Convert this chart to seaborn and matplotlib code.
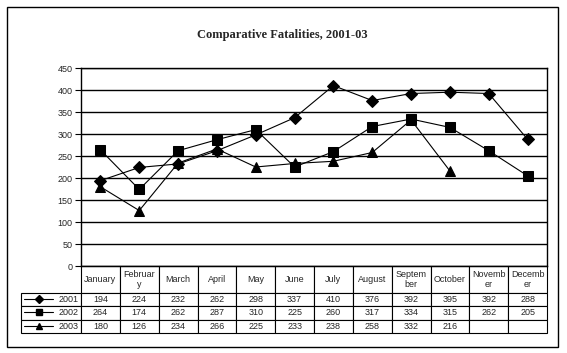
import numpy as np
import pandas as pd
import seaborn as sns
import matplotlib.pyplot as plt
from matplotlib.lines import Line2D
from matplotlib.patches import Rectangle

months = ["January", "February", "March", "April", "May", "June",
          "July", "August", "September", "October", "November", "December"]
# header labels as they are wrapped in the original table
month_labels = ["January", "Februar\ny", "March", "April", "May", "June",
                "July", "August", "Septem\nber", "October", "Novemb\ner", "Decemb\ner"]
years = ["2001", "2002", "2003"]
fat_2001 = [194, 224, 232, 262, 298, 337, 410, 376, 392, 395, 392, 288]
fat_2002 = [264, 174, 262, 287, 310, 225, 260, 317, 334, 315, 262, 205]
fat_2003 = [180, 126, 234, 266, 225, 233, 238, 258, 332, 216, None, None]

series = {"2001": fat_2001, "2002": fat_2002, "2003": fat_2003}
rows = []
for y, vals in series.items():
    for i, v in enumerate(vals):
        rows.append({"month": i, "year": y, "value": np.nan if v is None else v})
df = pd.DataFrame(rows)

sns.set_style("white")
plt.rcParams['font.family'] = ['Liberation Sans', 'DejaVu Sans']

W, H = 567, 353
fig = plt.figure(figsize=(W / 100, H / 100), dpi=100)

# outer frame
fig.add_artist(Rectangle((7 / W, 1 - 347 / H), 551 / W, 340 / H, transform=fig.transFigure,
                         fill=False, edgecolor="black", linewidth=1))

ax = fig.add_axes([81 / W, 1 - 266 / H, 466 / W, 198 / H])
markers = {"2001": "D", "2002": "s", "2003": "^"}
sns.lineplot(data=df, x="month", y="value", hue="year", style="year",
             palette=["black"] * 3, markers=markers, dashes=False,
             markersize=6.5, linewidth=0.8, markeredgecolor="black",
             legend=False, ax=ax)

ax.set_xlim(-0.5, 11.5)
ax.set_ylim(0, 450)
ax.set_yticks(range(0, 451, 50))
ax.yaxis.grid(True, color="black", linewidth=1)
ax.set_axisbelow(True)
ax.set_xticks([])
ax.set_xlabel("")
ax.set_ylabel("")
ax.tick_params(axis="y", labelsize=6.5, length=4, width=0.8, color="black", left=True, pad=2)
for s in ax.spines.values():
    s.set_color("black")
    s.set_linewidth(1)

fig.text(282 / W, 1 - 35 / H, "Comparative Fatalities, 2001-03", ha="center", va="center",
         fontsize=9, fontweight="bold", family="Liberation Serif")

# data table under the plot
cell_text = [["" if v is None else str(v) for v in series[y]] for y in years]
tbl = ax.table(cellText=cell_text, rowLabels=years, colLabels=month_labels,
               colWidths=[1 / 12] * 12, cellLoc="center", rowLoc="right",
               bbox=[0, -67 / 198, 1, 67 / 198])
tbl._autoColumns = []
tbl.auto_set_font_size(False)
tbl.set_fontsize(6.5)
for (r, c), cell in tbl.get_celld().items():
    cell.set_linewidth(0.8)
    cell.set_edgecolor("black")
    if c == -1:
        cell.set_width(60 / 466)
        cell.PAD = 0.04
    if r == 0:
        cell.set_height(cell.get_height() * 2)

# legend keys inside the row-label cells
row_y = [292 + 6.5, 305 + 6.5, 318 + 7.5]
for y, yy in zip(years, row_y):
    yax = (266 - yy) / 198
    ax.add_line(Line2D([(24 - 81) / 466, (53 - 81) / 466], [yax, yax], color="black",
                       linewidth=0.8, transform=ax.transAxes, clip_on=False))
    ax.add_line(Line2D([(39 - 81) / 466], [yax], marker=markers[y], markersize=4.5,
                       color="black", transform=ax.transAxes, clip_on=False))

fig.savefig("out.png", dpi=100)
